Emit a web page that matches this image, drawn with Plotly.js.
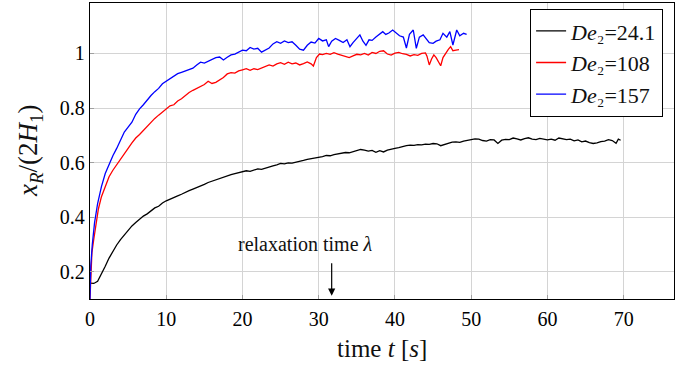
<!DOCTYPE html>
<html>
<head>
<meta charset="utf-8">
<script src="https://cdn.plot.ly/plotly-3.0.1.min.js"></script>
<style>html,body{margin:0;padding:0;background:#fff;}#chart{width:695px;height:367px;}</style>
</head>
<body>
<div id="chart"></div>
<script>
// De2 = 24.1 (black)
const tBlack = [0,0.5,1.0,1.5,2.0,2.5,3.0,3.5,4.0,4.5,5.0,5.5,6.0,6.5,7.0,7.5,8.0,8.5,9.0,9.5,10,10.5,11,11.5,12,12.5,13,13.5,14,14.5,15,15.5,16,16.5,17,17.5,18,18.5,19,19.5,20,20.5,21,21.5,22,22.5,23,23.5,24,24.5,
25,25.5,26,26.5,27,27.5,28,28.5,29,29.5,30,30.5,31,31.5,32,32.5,33,33.5,34,34.5,35,35.5,36,36.5,37,37.5,38,38.5,39,39.5,40,40.5,41,41.5,42,42.5,43,43.5,44,44.5,45,45.5,46,46.5,47,47.5,48,48.5,49,49.5,50,50.5,51,51.5,52,52.5,53,53.5,54,54.5,55,55.5,56,56.5,57,57.5,58,58.5,59,59.5,60,60.5,61,61.5,62,62.5,63,63.5,64,64.5,65,65.5,66,66.5,67,67.5,68,68.5,69,69.3,69.6];
const yBlack = [0.158,0.157,0.165,0.19,0.22,0.25,0.275,0.298,0.318,0.336,0.352,0.368,0.38,0.392,0.404,0.412,0.424,0.434,0.44,0.452,0.46,0.465,0.472,0.478,0.484,0.492,0.497,0.503,0.508,0.514,0.52,0.527,0.532,0.538,0.541,0.547,0.552,0.556,0.56,0.563,0.566,0.57,0.568,0.574,0.577,0.575,0.58,0.585,0.588,0.592,
0.597,0.595,0.599,0.598,0.601,0.603,0.608,0.612,0.614,0.617,0.618,0.622,0.626,0.625,0.629,0.631,0.634,0.637,0.636,0.64,0.643,0.648,0.646,0.642,0.645,0.638,0.644,0.639,0.646,0.648,0.652,0.655,0.659,0.662,0.664,0.663,0.666,0.665,0.668,0.667,0.67,0.669,0.662,0.666,0.672,0.675,0.676,0.674,0.679,0.682,0.684,0.687,0.686,0.681,0.679,0.684,0.683,0.67,0.682,0.685,0.684,0.69,0.687,0.683,0.688,0.691,0.686,0.684,0.689,0.687,0.683,0.686,0.682,0.69,0.688,0.684,0.686,0.68,0.683,0.676,0.679,0.673,0.67,0.672,0.677,0.679,0.684,0.681,0.671,0.686,0.682];

// De2 = 108 (red)
const tRed = [0,0.1,0.25,0.5,0.8,1.1,1.5,2.0,2.5,3.0,3.5,4.0,4.5,5.0,5.5,6.0,6.5,7.0,7.5,8.0,8.5,9.0,9.5,10,10.5,11,11.5,12,12.5,13,13.5,14,14.5,15,15.5,16,16.5,17,17.5,18,18.5,19,19.5,20,20.5,21,21.5,22,22.5,23,23.5,24,24.5,25,25.5,26,26.5,27,27.5,28,28.5,29,29.3,29.7,30.1,30.5,31,31.5,32,32.5,33,33.5,34,34.5,35,35.5,36,36.5,37,37.5,38,38.5,39,39.5,40,40.5,41,41.5,42,42.5,43,43.5,44,44.2,44.5,44.8,45.1,45.4,45.7,46,46.3,46.6,47,47.3,47.6,48,48.4];
const yRed = [0.1,0.2,0.27,0.32,0.38,0.43,0.475,0.515,0.548,0.572,0.593,0.612,0.633,0.652,0.672,0.69,0.703,0.718,0.735,0.75,0.762,0.774,0.786,0.795,0.808,0.812,0.826,0.834,0.846,0.857,0.865,0.872,0.881,0.886,0.898,0.89,0.894,0.903,0.912,0.925,0.93,0.928,0.936,0.94,0.944,0.938,0.944,0.941,0.946,0.952,0.958,0.954,0.962,0.966,0.96,0.968,0.962,0.965,0.958,0.963,0.969,0.962,0.954,0.985,0.998,0.996,1.0,0.997,1.003,0.998,0.994,0.99,0.985,0.991,0.997,0.995,1.0,0.994,1.004,1.0,1.008,1.01,0.998,0.994,1.001,1.004,0.999,0.997,0.991,0.996,0.993,1.0,1.002,0.99,0.958,0.98,0.995,0.985,0.968,0.955,0.985,1.0,1.015,1.025,1.01,1.012,1.014];

// De2 = 157 (blue)
const tBlue = [0,0.1,0.3,0.6,1.0,1.5,2.0,2.5,3.0,3.5,4.0,4.5,5.0,5.5,6.0,6.5,7.0,7.5,8.0,8.5,9.0,9.5,10,10.5,11,11.5,12,12.5,13,13.5,14,14.5,15,15.5,16,16.5,17,17.5,18,18.5,19,19.5,20,20.5,21,21.5,22,22.5,23,23.5,24,24.5,25,25.5,26,26.5,27,27.5,28,28.5,29,29.5,30,30.5,31,31.3,31.7,32.2,32.7,33.2,33.7,34.1,34.5,35,35.4,35.8,36.2,36.6,37,37.5,38,38.4,38.8,39.2,39.7,40.2,40.6,41.1,41.5,41.9,42.4,42.8,43.2,43.7,44.1,44.5,45,45.4,45.9,46.3,46.8,47.2,47.6,48.1,48.5,49,49.4];
const yBlue = [0.1,0.22,0.3,0.38,0.45,0.512,0.56,0.595,0.625,0.652,0.68,0.712,0.73,0.748,0.777,0.797,0.812,0.831,0.846,0.86,0.872,0.889,0.898,0.906,0.918,0.926,0.931,0.936,0.94,0.946,0.958,0.968,0.965,0.972,0.978,0.985,0.987,0.976,0.986,0.995,0.998,1.005,1.012,1.01,1.022,1.016,1.019,1.005,1.012,1.02,1.035,1.043,1.037,1.046,1.04,1.043,1.03,1.016,1.012,1.03,1.042,1.038,1.055,1.046,1.05,1.025,1.045,1.055,1.048,1.04,1.05,1.025,1.04,1.055,1.068,1.045,1.03,1.05,1.048,1.06,1.07,1.08,1.07,1.075,1.086,1.074,1.065,1.06,1.02,1.07,1.086,1.019,1.06,1.068,1.052,1.04,1.037,1.045,1.05,1.074,1.06,1.08,1.031,1.086,1.065,1.074,1.07];

const xTicks = [0,10,20,30,40,50,60,70];
const yTicks = [0.2,0.4,0.6,0.8,1];
const yTickText = ['0.2','0.4','0.6','0.8','1'];
const seriesNames = ['<i>De</i>₂=24.1','<i>De</i>₂=108','<i>De</i>₂=157'];
const xTitle = 'time <i>t</i> [<i>s</i>]';
const yTitle = '<i>x<sub>R</sub></i>/(2<i>H</i><sub>1</sub>)';
const relaxationLabel = 'relaxation time <i>λ</i>';
const relaxationTime = 31.7;

const FONT = 'Liberation Serif';

const traces = [
  {x: tBlack, y: yBlack, name: seriesNames[0], line: {color: '#000000', width: 1.3}},
  {x: tRed, y: yRed, name: seriesNames[1], line: {color: '#ff0000', width: 1.3}},
  {x: tBlue, y: yBlue, name: seriesNames[2], line: {color: '#0000ff', width: 1.3}}
].map(t => Object.assign({type: 'scatter', mode: 'lines'}, t));

const tickFont = {family: FONT, size: 20, color: '#000000'};

const annotations = [
  {x: 0.5, xref: 'paper', y: 0, yref: 'paper', xanchor: 'center', yanchor: 'middle', yshift: -49,
   text: xTitle, showarrow: false, font: {family: FONT, size: 25, color: '#111'}},
  {x: 0, xref: 'paper', y: 0.5, yref: 'paper', xanchor: 'center', yanchor: 'middle', xshift: -60,
   textangle: -90, text: yTitle, showarrow: false, font: {family: FONT, size: 27, color: '#111'}},
  {x: 28.2, y: 0.3, xref: 'x', yref: 'y', text: relaxationLabel, showarrow: false,
   font: {family: FONT, size: 20, color: '#111'}},
  {x: relaxationTime, y: 0.112, xref: 'x', yref: 'y', text: '', showarrow: true,
   arrowhead: 2, arrowsize: 1.2, arrowwidth: 1.2, arrowcolor: '#000', ax: 0, ay: -34}
];

const layout = {
  width: 695, height: 367,
  margin: {l: 90, r: 21, t: 3, b: 68},
  paper_bgcolor: '#fff', plot_bgcolor: '#fff',
  font: {family: FONT, size: 20, color: '#000'},
  showlegend: true,
  legend: {
    x: 0.981, y: 0.98, xanchor: 'right', yanchor: 'top',
    bgcolor: '#fff', bordercolor: '#000', borderwidth: 1.2,
    font: {family: FONT, size: 22, color: '#111'},
    tracegroupgap: 0, itemwidth: 30
  },
  xaxis: {
    showline: true, linecolor: '#000', linewidth: 1.3, mirror: true,
    showgrid: true, gridcolor: '#d4d4d4', gridwidth: 1, zeroline: false,
    ticks: 'inside', ticklen: 4, tickcolor: '#a0a0a0',
    range: [0, 76.6], tickmode: 'array', tickvals: xTicks, ticktext: xTicks.map(String),
    tickfont: tickFont, ticklabelstandoff: 2
  },
  yaxis: {
    showline: true, linecolor: '#000', linewidth: 1.3, mirror: true,
    showgrid: true, gridcolor: '#d4d4d4', gridwidth: 1, zeroline: false,
    ticks: 'inside', ticklen: 4, tickcolor: '#a0a0a0',
    range: [0.1, 1.185], tickmode: 'array', tickvals: yTicks, ticktext: yTickText,
    tickfont: tickFont
  },
  annotations: annotations
};

Plotly.newPlot('chart', traces, layout, {displayModeBar: false, staticPlot: true});
</script>
</body>
</html>
